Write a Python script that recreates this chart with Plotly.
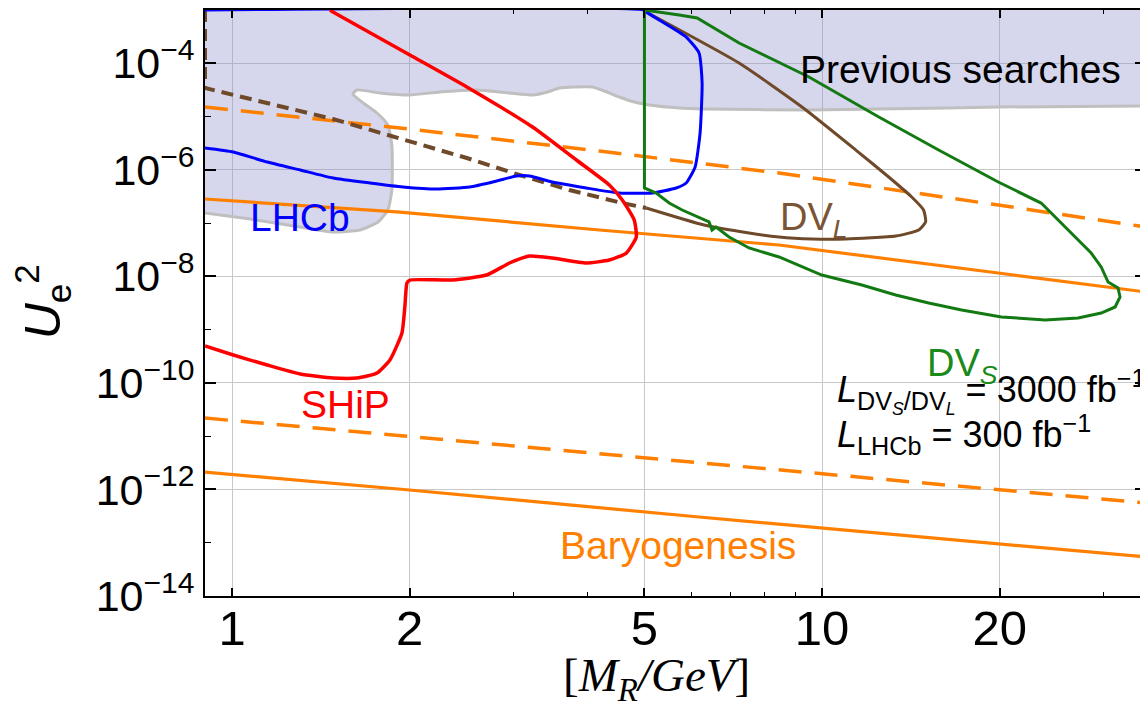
import math
import plotly.graph_objects as go

# ---------------- data (M_R in GeV, U_e^2) ----------------
prev_M = [0.9, 35.4, 35.4, 19.89, 16.38, 9.502, 6.311, 5.727, 5.094, 4.805, 4.533, 4.276,
          4.080, 3.804, 3.588, 3.425, 3.231, 2.953, 2.598, 2.250, 2.002, 1.781, 1.628,
          1.603, 1.661, 1.761, 1.837, 1.866, 1.866, 1.837, 1.768, 1.648, 1.483, 1.305,
          1.074, 0.9]
prev_U = [1e-3, 1e-3, 1.58e-5, 1.51e-5, 1.45e-5, 1.33e-5, 1.39e-5, 1.45e-5, 1.65e-5, 1.87e-5,
          2.33e-5, 3.02e-5, 3.59e-5, 3.59e-5, 3.43e-5, 2.89e-5, 2.54e-5, 2.77e-5, 3.15e-5,
          2.89e-5, 2.54e-5, 2.77e-5, 3.15e-5, 2.65e-5, 1.87e-5, 1.165e-5, 6.94e-6, 2.92e-6,
          4.18e-7, 1.76e-7, 1.05e-7, 7.42e-8, 6.80e-8, 8.44e-8, 1.19e-7, 1.55e-7]

lhcb_M = [0.9, 1.005, 1.147, 1.305, 1.483, 1.713, 1.948, 2.224, 2.529, 2.808, 3.035, 3.193,
          3.492, 3.986, 4.533, 5.153, 5.659, 5.885, 6.094, 6.213, 6.262, 6.188, 5.885, 5.035,
          5.0, 0.9]
lhcb_U = [2.57e-6, 2.16e-6, 1.40e-6, 9.92e-7, 7.02e-7, 5.65e-7, 4.76e-7, 4.36e-7, 4.76e-7,
          6.17e-7, 7.65e-7, 7.65e-7, 5.90e-7, 4.56e-7, 3.67e-7, 3.67e-7, 4.56e-7, 5.65e-7,
          1.13e-6, 4.91e-6, 4.26e-5, 1.56e-4, 3.11e-4, 9.17e-4, 1e-3, 1e-3]

ship_M = [0.9, 1.005, 1.147, 1.305, 1.483, 1.628, 1.761, 1.852, 1.941, 1.963, 1.979, 2.002,
          2.367, 2.701, 2.953, 3.193, 3.492, 3.986, 4.360, 4.658, 4.843, 4.805, 4.586, 4.360,
          3.834, 3.231, 2.500, 2.002, 1.483, 1.466]
ship_U = [4.93e-10, 3.34e-10, 2.17e-10, 1.47e-10, 1.235e-10, 1.235e-10, 1.53e-10, 2.69e-10,
          8.64e-10, 2.66e-9, 7.50e-9, 8.54e-9, 8.54e-9, 1.06e-8, 1.78e-8, 2.41e-8, 2.21e-8,
          1.78e-8, 2.03e-8, 2.74e-8, 5.48e-8, 1.14e-7, 2.71e-7, 5.19e-7, 1.53e-6, 6.36e-6,
          3.59e-5, 1.43e-4, 9.17e-4, 1e-3]

dvl_M = [5.035, 7.234, 9.246, 11.41, 12.97, 14.19, 14.86, 14.98, 14.58, 13.33, 10.97, 9.612,
         8.455, 7.521, 6.311, 5.035]
dvl_U = [9.17e-4, 1.01e-4, 1.51e-5, 2.35e-6, 7.33e-7, 3.09e-7, 1.76e-7, 1.05e-7, 7.42e-8,
         5.72e-8, 5.03e-8, 5.03e-8, 5.48e-8, 6.52e-8, 9.20e-8, 1.92e-7]

dvl_ext_M = [0.9, 0.9, 1.483, 1.925, 2.500, 3.071, 3.731, 4.586, 5.035]
dvl_ext_U = [1e-3, 3.43e-5, 8.99e-6, 3.79e-6, 1.665e-6, 7.99e-7, 4.18e-7, 2.38e-7, 1.92e-7]

dvs_M = [5.0, 5.0, 5.235, 5.507, 5.794, 6.188, 6.433, 6.509, 6.612, 6.957, 7.521, 8.455, 9.99,
         11.68, 13.33, 15.16, 17.24, 20.13, 23.88, 27.16, 29.72, 31.38, 31.99, 31.74, 30.53,
         29.72, 28.58, 24.45, 23.51, 19.89, 15.76, 12.48, 9.502, 7.234, 6.142, 5.727, 5.0]
dvs_U = [1e-3, 4.56e-7, 3.67e-7, 2.38e-7, 1.76e-7, 1.30e-7, 1.05e-7, 7.42e-8, 8.44e-8,
         5.48e-8, 3.41e-8, 2.31e-8, 1.06e-8, 6.88e-9, 4.47e-9, 3.16e-9, 2.34e-9, 1.73e-9,
         1.52e-9, 1.65e-9, 2.05e-9, 2.66e-9, 4.10e-9, 6.04e-9, 7.83e-9, 1.50e-8, 2.74e-8,
         1.55e-7, 2.38e-7, 5.90e-7, 2.35e-6, 9.80e-6, 5.52e-5, 2.40e-4, 7.08e-4, 8.06e-4, 1e-3]

bau_hi_solid_M = [0.9, 1.925, 4.194, 8.455, 19.89, 35.4]
bau_hi_solid_U = [2.83e-7, 1.61e-7, 7.42e-8, 3.88e-8, 1.156e-8, 5.08e-9]
bau_hi_dash_M = [0.9, 1.925, 4.194, 8.455, 19.89, 35.4]
bau_hi_dash_U = [1.51e-5, 6.10e-6, 2.25e-6, 8.71e-7, 2.18e-7, 8.44e-8]
bau_lo_dash_M = [0.9, 6.188, 35.4]
bau_lo_dash_U = [2.19e-11, 3.13e-12, 5.56e-13]
bau_lo_solid_M = [0.9, 2.0, 6.188, 35.4]
bau_lo_solid_U = [2.12e-12, 9.76e-13, 3.04e-13, 5.40e-14]

x_ticks = [1, 2, 5, 10, 20]
x_ticktext = ["1", "2", "5", "10", "20"]
x_minor = [3, 4, 6, 7, 8, 9, 30]
y_exps = [-4, -6, -8, -10, -12, -14]
y_ticks = [10.0 ** e for e in y_exps]
y_ticktext = ["10<sup>\u2212%d</sup>" % (-e) for e in y_exps]
y_minor = [1e-5, 1e-7, 1e-9, 1e-11, 1e-13]

# ---------------- styles ----------------
ORANGE = "#ff8000"
BLUE = "#0000ff"
RED = "#ff0000"
BROWN = "#6f4a2a"
GREEN = "#137a13"
SANS = "Liberation Sans"

fig = go.Figure()

def line(x, y, color, width=3, dash="solid", shape="spline"):
    fig.add_trace(go.Scatter(x=x, y=y, mode="lines", hoverinfo="skip", showlegend=False,
                             line=dict(color=color, width=width, dash=dash, shape=shape,
                                       smoothing=0.5 if shape == "spline" else None)))

# previous searches (filled)
fig.add_trace(go.Scatter(x=prev_M, y=prev_U, mode="lines", fill="toself",
                         fillcolor="rgba(138,141,201,0.35)", line=dict(width=0),
                         hoverinfo="skip", showlegend=False))
line(prev_M[2:], prev_U[2:], "#bfbfbf", width=3)

# baryogenesis lines
line(bau_hi_solid_M, bau_hi_solid_U, ORANGE, 3.2, shape="linear")
line(bau_hi_dash_M, bau_hi_dash_U, ORANGE, 3.5, dash="23px,13px", shape="linear")
line(bau_lo_dash_M, bau_lo_dash_U, ORANGE, 3.5, dash="23px,13px", shape="linear")
line(bau_lo_solid_M, bau_lo_solid_U, ORANGE, 3.2, shape="linear")

# DV_L
line(dvl_ext_M, dvl_ext_U, BROWN, 4, dash="12px,7px", shape="linear")
line(dvl_M, dvl_U, BROWN, 3)
# LHCb
line(lhcb_M, lhcb_U, BLUE, 3)
# SHiP
line(ship_M, ship_U, RED, 3.5)
# DV_S
line(dvs_M, dvs_U, GREEN, 3, shape="linear")

# plot area in page pixels (page has an 8px body margin)
W0, W1, H0, H1 = 205, 1148, 10, 596
def px(xp):
    return (xp - W0) / (W1 - W0)
def py(yp):
    return (H1 - yp) / (H1 - H0)

def note(text, x, y, size, color, xanchor="center", family=SANS, angle=0):
    fig.add_annotation(text=text, x=px(x), y=py(y), xref="paper", yref="paper",
                       showarrow=False, xanchor=xanchor, yanchor="middle",
                       textangle=angle, font=dict(family=family, size=size, color=color))

note("Previous searches", 962, 70, 39, "black")
note("LHCb", 300, 217, 39, BLUE)
note("SHiP", 346, 405, 39, RED)
note("DV<sub><i>L</i></sub>", 779, 220, 38, "#7a5535", xanchor="left")
note("DV<sub><i>S</i></sub>", 927, 366, 38, "#1a8a1a", xanchor="left")
note("Baryogenesis", 679, 545, 39, ORANGE)
note("<i>L</i><sub>DV<sub><i>S</i></sub>/DV<sub><i>L</i></sub></sub> = 3000 fb<sup>\u22121</sup>",
     836, 392, 36, "black", xanchor="left")
note("<i>L</i><sub>LHCb</sub> = 300 fb<sup>\u22121</sup>", 836, 434, 36, "black", xanchor="left")
note("[<i>M</i><sub><i>R</i></sub><i>/GeV</i>]", 657, 678, 47, "black", family="Liberation Serif")
note("<i>U</i><sub>e</sub><sup>2</sup>", 42, 302, 50, "black", angle=-90)

axis_common = dict(type="log", ticks="inside", tickcolor="black", tickwidth=1.5,
                   showline=True, linecolor="black", linewidth=1.6, mirror="ticks",
                   showgrid=True, gridcolor="#c8c8c8", gridwidth=1.2, zeroline=False)

fig.update_layout(
    width=1140, height=693,
    margin=dict(l=W0 - 8, r=0, t=H0 - 8, b=693 - (H1 - 8)),
    plot_bgcolor="white", paper_bgcolor="white", showlegend=False,
    xaxis=dict(axis_common, range=[math.log10(0.9), math.log10(35.4)],
               tickmode="array", tickvals=x_ticks, ticktext=x_ticktext, ticklen=8,
               tickfont=dict(family=SANS, size=49, color="black"),
               minor=dict(tickmode="array", tickvals=x_minor, ticks="inside", ticklen=4,
                          tickcolor="black", tickwidth=1.2, showgrid=False)),
    yaxis=dict(axis_common, range=[-14, -3],
               tickmode="array", tickvals=y_ticks, ticktext=y_ticktext, ticklen=11,
               tickfont=dict(family=SANS, size=43, color="black"),
               minor=dict(tickmode="array", tickvals=y_minor, ticks="inside", ticklen=6,
                          tickcolor="black", tickwidth=1.2, showgrid=False)),
)
try:
    fig.update_xaxes(ticklabelstandoff=-12)
except Exception:
    pass

fig.write_html("out.html")
